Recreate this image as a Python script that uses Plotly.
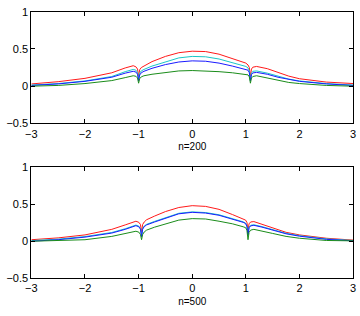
import plotly.graph_objects as go

# ---- data: n=200 (top panel) ----
x_top = [-3, -2.5, -2, -1.5, -1.25, -1.1, -1.05, -1.02, -1.0, -0.98, -0.95, -0.9, -0.75, -0.5, -0.25, 0,
         0.25, 0.5, 0.75, 1.0, 1.04, 1.065, 1.085, 1.105, 1.13, 1.2, 1.4, 1.6, 1.8, 2, 2.5, 3]
red_top = [0.03, 0.06, 0.105, 0.18, 0.245, 0.275, 0.26, 0.23, 0.13, 0.22, 0.25, 0.27, 0.33, 0.40, 0.45, 0.47,
           0.465, 0.43, 0.37, 0.31, 0.285, 0.25, 0.13, 0.23, 0.255, 0.265, 0.235, 0.185, 0.135, 0.10, 0.055, 0.035]
cyan_top = [0.015, 0.035, 0.07, 0.13, 0.195, 0.225, 0.215, 0.185, 0.09, 0.175, 0.205, 0.225, 0.27, 0.33, 0.38, 0.40,
            0.395, 0.365, 0.31, 0.265, 0.245, 0.21, 0.08, 0.175, 0.20, 0.205, 0.175, 0.13, 0.095, 0.07, 0.035, 0.015]
blue_top = [0.01, 0.03, 0.065, 0.12, 0.175, 0.20, 0.19, 0.16, 0.07, 0.15, 0.18, 0.20, 0.24, 0.29, 0.325, 0.34,
            0.335, 0.31, 0.27, 0.23, 0.215, 0.18, 0.07, 0.155, 0.178, 0.185, 0.16, 0.12, 0.09, 0.065, 0.03, 0.01]
green_top = [0.0, 0.01, 0.035, 0.075, 0.115, 0.14, 0.133, 0.11, 0.04, 0.10, 0.125, 0.14, 0.16, 0.185, 0.205, 0.21,
             0.205, 0.195, 0.18, 0.16, 0.152, 0.125, 0.04, 0.11, 0.13, 0.14, 0.11, 0.08, 0.05, 0.035, 0.01, 0.0]

# ---- data: n=500 (bottom panel) ----
x_bot = [-3, -2.5, -2, -1.5, -1.25, -1.05, -0.995, -0.965, -0.945, -0.925, -0.895, -0.85, -0.7, -0.5, -0.25, 0,
         0.25, 0.5, 0.75, 0.95, 0.995, 1.02, 1.04, 1.06, 1.09, 1.15, 1.3, 1.5, 1.75, 2, 2.5, 3]
red_bot = [0.02, 0.045, 0.085, 0.16, 0.22, 0.27, 0.255, 0.225, 0.12, 0.225, 0.26, 0.29, 0.34, 0.40, 0.455, 0.48,
           0.47, 0.43, 0.36, 0.30, 0.285, 0.255, 0.15, 0.235, 0.26, 0.265, 0.23, 0.18, 0.12, 0.085, 0.04, 0.015]
cyan_bot = [0.008, 0.028, 0.063, 0.118, 0.168, 0.218, 0.203, 0.17, 0.07, 0.17, 0.205, 0.228, 0.268, 0.318, 0.377, 0.396,
            0.387, 0.357, 0.307, 0.262, 0.245, 0.21, 0.09, 0.19, 0.215, 0.222, 0.197, 0.157, 0.107, 0.075, 0.032, 0.01]
blue_bot = [0.0, 0.02, 0.055, 0.11, 0.16, 0.21, 0.195, 0.162, 0.06, 0.162, 0.197, 0.22, 0.26, 0.31, 0.37, 0.39,
            0.38, 0.35, 0.30, 0.255, 0.238, 0.20, 0.08, 0.182, 0.207, 0.215, 0.19, 0.15, 0.10, 0.068, 0.025, 0.005]
green_bot = [0.0, 0.005, 0.02, 0.065, 0.10, 0.135, 0.122, 0.09, 0.02, 0.09, 0.125, 0.15, 0.19, 0.235, 0.285, 0.305,
             0.30, 0.27, 0.235, 0.195, 0.183, 0.15, 0.02, 0.12, 0.15, 0.16, 0.14, 0.105, 0.065, 0.04, 0.01, 0.005]

x_ticks = [-3, -2, -1, 0, 1, 2, 3]
x_ticklabels = ["\u22123", "\u22122", "\u22121", "0", "1", "2", "3"]
y_ticks = [-0.5, 0, 0.5, 1]
y_ticklabels = ["\u22120.5", "0", "0.5", "1"]
titles = ["n=200", "n=500"]

colors = ["#ff1a1a", "#1ac6c6", "#1a1aff", "#1a8c1a"]

fig = go.Figure()
panels = [
    (x_top, [red_top, cyan_top, blue_top, green_top], "x", "y"),
    (x_bot, [red_bot, cyan_bot, blue_bot, green_bot], "x2", "y2"),
]
for xs, series, xa, ya in panels:
    for ys, c in zip(series, colors):
        fig.add_trace(go.Scatter(x=xs, y=ys, mode="lines", xaxis=xa, yaxis=ya,
                                 line=dict(color=c, width=1), showlegend=False,
                                 hoverinfo="skip"))

font = dict(family="Liberation Sans, Arial, sans-serif", size=11, color="black")
tfont = dict(family="Liberation Sans, Arial, sans-serif", size=10, color="black")
xcommon = dict(range=[-3, 3], tickvals=x_ticks, ticktext=x_ticklabels, showgrid=False,
               zeroline=False, showline=True, linecolor="black", linewidth=1, mirror="ticks",
               ticks="inside", ticklen=4, tickcolor="black", tickfont=font,
               domain=[26 / 360, 356 / 360])
ycommon = dict(range=[-0.5, 1], tickvals=y_ticks, ticktext=y_ticklabels, showgrid=False,
               zeroline=False, showline=True, linecolor="black", linewidth=1, mirror="ticks",
               ticks="inside", ticklen=4, tickcolor="black", tickfont=font)

fig.update_layout(
    width=360, height=316,
    margin=dict(l=0, r=0, t=0, b=0),
    paper_bgcolor="white", plot_bgcolor="white",
    xaxis=dict(xcommon, anchor="y", title=dict(text=titles[0], font=tfont, standoff=4)),
    yaxis=dict(ycommon, anchor="x", domain=[(316 - 122) / 316, (316 - 6) / 316]),
    xaxis2=dict(xcommon, anchor="y2", title=dict(text=titles[1], font=tfont, standoff=4)),
    yaxis2=dict(ycommon, anchor="x2", domain=[(316 - 283) / 316, (316 - 167.5) / 316]),
)

fig.write_html("out.html")
